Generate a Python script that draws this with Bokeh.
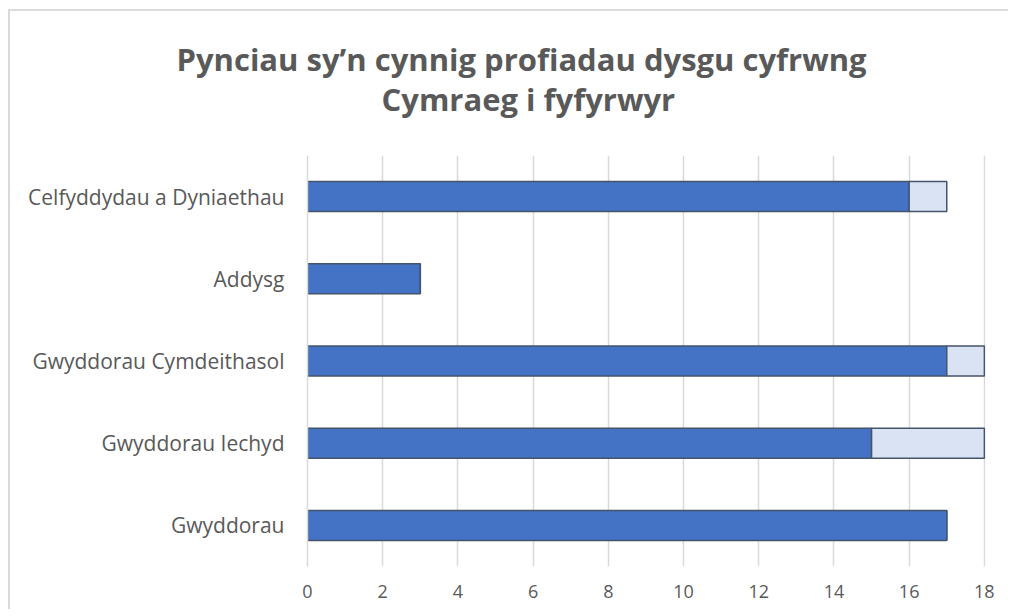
from bokeh.plotting import figure
from bokeh.models import Range1d, FactorRange, FixedTicker, Title, ColumnDataSource
from bokeh.embed import file_html
from bokeh.resources import INLINE

# ---- data (bottom to top) ----
categories = ["Gwyddorau", "Gwyddorau Iechyd", "Gwyddorau Cymdeithasol",
              "Addysg", "Celfyddydau a Dyniaethau"]
series_main = [17, 15, 17, 3, 16]
series_extra = [0, 3, 1, 0, 1]
x_ticks = [0, 2, 4, 6, 8, 10, 12, 14, 16, 18]
title_lines = ["Pynciau sy\u2019n cynnig profiadau dysgu cyfrwng",
               "Cymraeg i fyfyrwyr"]

FONT = "Open Sans"
GREY_TXT = "#595959"
GRID = "#d9d9d9"

source = ColumnDataSource(dict(cat=categories, main=series_main, extra=series_extra))

p = figure(width=1000, height=600,
           y_range=FactorRange(factors=categories, range_padding=0),
           x_range=Range1d(0, 18.03),
           output_backend="svg", toolbar_location=None,
           min_border_left=297, min_border_right=25,
           min_border_top=144, min_border_bottom=45,
           styles={"margin-left": "8px", "margin-top": "9px",
                   "border-top": "2px solid #d9d9d9", "border-left": "2px solid #d9d9d9"})

p.hbar_stack(["main", "extra"], y="cat", height=0.365, source=source,
             fill_color=["#4472C4", "#DAE3F3"], line_color="#44546A", line_width=1.5)

p.outline_line_color = None
p.background_fill_color = "white"
p.border_fill_color = "white"

p.ygrid.grid_line_color = None
p.xgrid.grid_line_color = GRID
p.xgrid.grid_line_width = 1.5
p.xaxis.ticker = FixedTicker(ticks=x_ticks)
p.xaxis.axis_line_color = None
p.xaxis.major_tick_line_color = None
p.xaxis.minor_tick_line_color = None
p.xaxis.major_tick_out = 0
p.xaxis.major_label_standoff = 18
p.xaxis.major_label_text_font = FONT
p.xaxis.major_label_text_font_size = "18px"
p.xaxis.major_label_text_color = GREY_TXT

p.yaxis.axis_line_color = GRID
p.yaxis.axis_line_width = 1.5
p.yaxis.major_tick_line_color = None
p.yaxis.minor_tick_line_color = None
p.yaxis.major_tick_out = 0
p.yaxis.major_label_standoff = 23
p.yaxis.major_label_text_font = FONT
p.yaxis.major_label_text_font_size = "21px"
p.yaxis.major_label_text_color = GREY_TXT

# spacer between the frame and the title block
p.add_layout(Title(text=" ", text_font_size="1px", standoff=33), "above")
# second line added first (nearest the frame), then first line above it
p.add_layout(Title(text=title_lines[1], align="left", offset=74, text_font=FONT,
                   text_font_size="31px", text_font_style="bold", text_color=GREY_TXT,
                   standoff=0), "above")
p.add_layout(Title(text=title_lines[0], align="left", offset=-131, text_font=FONT,
                   text_font_size="31px", text_font_style="bold", text_color=GREY_TXT,
                   standoff=-8), "above")

open("out.html", "w").write(file_html(p, INLINE))
